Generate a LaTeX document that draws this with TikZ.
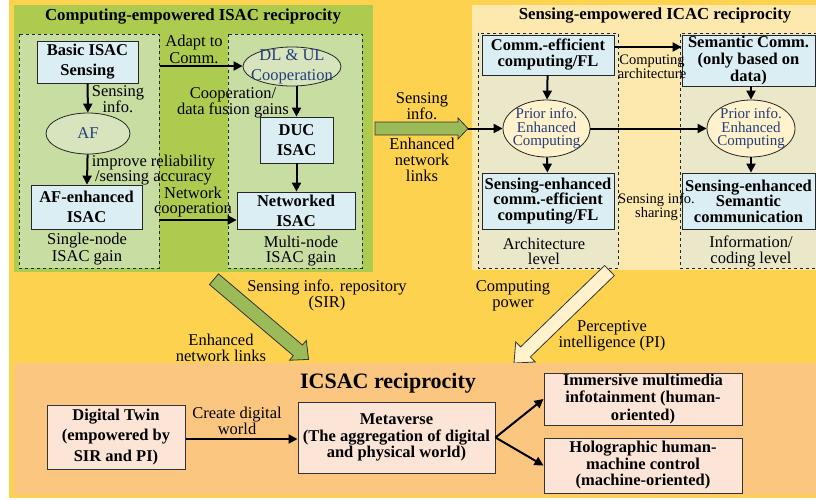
\documentclass[tikz,border=0pt]{standalone}
\usepackage{fontspec}
\setmainfont{Liberation Serif}
\usetikzlibrary{shapes.geometric,arrows.meta}
\definecolor{bgyellow}{HTML}{FDD24F}
\definecolor{panelgreen}{HTML}{ADCB4F}
\definecolor{innergreen}{HTML}{C8DDA1}
\definecolor{ellgreen}{HTML}{D8E4BD}
\definecolor{panelcream}{HTML}{FDE9AE}
\definecolor{innercream}{HTML}{EBE7C9}
\definecolor{ellcream}{HTML}{FFF2CC}
\definecolor{boxblue}{HTML}{DBEEF4}
\definecolor{panelorange}{HTML}{FAC680}
\definecolor{boxpeach}{HTML}{FCE4D6}
\definecolor{arrgreen}{HTML}{9BBB59}
\definecolor{txtblue}{HTML}{233E7A}
\tikzset{
  dashbox/.style={draw=black!85, dashed, line width=0.7pt},
  bluebox/.style={draw=black!85, line width=0.8pt, fill=boxblue, align=center, inner sep=0pt,
    font=\fontsize{16.5}{20}\selectfont\bfseries},
  peachbox/.style={draw=black!80, line width=1pt, fill=boxpeach, align=center, inner sep=0pt,
    font=\fontsize{16.5}{17}\selectfont\bfseries},
  ellg/.style={ellipse, draw=black!85, line width=0.8pt, fill=ellgreen, inner sep=0pt},
  ellc/.style={ellipse, draw=black!85, line width=0.8pt, fill=ellcream, inner sep=0pt},
  elltext/.style={align=center, inner sep=0pt, text=txtblue, font=\fontsize{16.5}{20}\selectfont},
  elltextsm/.style={align=center, inner sep=0pt, text=txtblue, font=\fontsize{15}{13.5}\selectfont},
  lbl/.style={align=center, inner sep=0pt, font=\fontsize{16.5}{15.5}\selectfont},
  lblsm/.style={align=center, inner sep=0pt, font=\fontsize{14.5}{13}\selectfont},
  ttl/.style={inner sep=0pt, font=\fontsize{16.8}{20}\selectfont\bfseries},
  conn/.style={-{Triangle[length=9pt,width=9pt]}, line width=2pt, black},
  fatarrow/.style={draw=black!80, line width=0.8pt, line join=miter},
}
% #1 tail x, #2 tail y, #3 angle, #4 length, #5 shaft half width, #6 head half width, #7 head length, #8 fill
\newcommand{\myfatarrow}[8]{%
  \begin{scope}[shift={(#1,#2)}, rotate=#3]
    \draw[fatarrow, fill=#8] (0,-#5) -- ({#4-#7},-#5) -- ({#4-#7},-#6) -- (#4,0)
      -- ({#4-#7},#6) -- ({#4-#7},#5) -- (0,#5) -- cycle;
  \end{scope}}
\begin{document}
\begin{tikzpicture}[x=1pt,y=-1pt]
\useasboundingbox (0,0) rectangle (816,499);
\fill[white] (0,0) rectangle (816,499);
\fill[bgyellow] (9,0) rectangle (816,498);

% ---------- left panel ----------
\fill[panelgreen] (14,5) rectangle (373,272);
\draw[dashbox, fill=innergreen] (19,34) rectangle (159,268);
\draw[dashbox, fill=innergreen] (228,34) rectangle (362,268);
\node[ttl] (t1) at (193,17) {Computing-empowered ISAC reciprocity};

\node[bluebox, minimum width=101pt, minimum height=42pt] (basic) at (87.5,62) {Basic ISAC\\Sensing};
\node[ellg, minimum width=84pt, minimum height=41pt] (af) at (88,133.5) {};
\node[elltext] (aft) at (af) {AF};
\node[bluebox, minimum width=111pt, minimum height=44pt] (afisac) at (86.5,207) {AF-enhanced\\ISAC};
\node[lbl, font=\fontsize{16.5}{17}\selectfont] (single) at (87,249) {Single-node\\ISAC gain};

\node[ellg, minimum width=98pt, minimum height=39pt] (dlul) at (292,66.5) {};
\node[elltext] (dlult) at (dlul) {DL \& UL\\Cooperation};
\node[bluebox, minimum width=73pt, minimum height=46pt] (duc) at (296.5,140) {DUC\\ISAC};
\node[bluebox, minimum width=118pt, minimum height=37pt] (net) at (296,210.5) {Networked\\ISAC};
\node[lbl] (multi) at (301,251) {Multi-node\\ISAC gain};

\node[lbl] (sensinfo1) at (118,99) {Sensing\\info.};
\node[lbl] (improve) at (153.5,170) {improve reliability\\/sensing accuracy};
\node[lbl, font=\fontsize{16.5}{17}\selectfont] (adapt) at (194,49) {Adapt to\\Comm.};
\node[lbl] (coopgain) at (233,103) {Cooperation/\\data fusion gains};
\node[lbl] (netcoop) at (193,202) {Network\\cooperation};

\coordinate (adaptstart) at (160,66);
\coordinate (netstart) at (160,220);
\draw[conn] (basic) -- (af);
\draw[conn] (af) -- (afisac);
\draw[conn] (adaptstart) -- (dlul.west |- adaptstart);
\draw[conn] (duc.north |- dlul.south) -- (duc.north);
\draw[conn] (duc) -- (duc.south |- net.north);
\draw[conn] (netstart) -- (netstart -| net.west);

% ---------- right panel ----------
\fill[panelcream] (472,5) rectangle (816,270);
\draw[dashbox, fill=innercream] (478,33) rectangle (618,268);
\fill[innercream] (680,33) rectangle (816,268);
\draw[dashbox] (817,33) -- (680,33) -- (680,268) -- (817,268);
\node[ttl] (t2) at (655,16) {Sensing-empowered ICAC reciprocity};

\node[bluebox, minimum width=132pt, minimum height=40pt, font=\fontsize{16.5}{16}\selectfont\bfseries] (comm) at (548,55) {Comm.-efficient\\computing/FL};
\node[ellc, minimum width=87pt, minimum height=57pt] (pri1) at (546.5,128.5) {};
\node[elltextsm] (pri1t) at (pri1) {Prior info.\\Enhanced\\Computing};
\node[bluebox, minimum width=132pt, minimum height=56pt, font=\fontsize{16.5}{15.5}\selectfont\bfseries] (secomm) at (548,201) {Sensing-enhanced\\comm.-efficient\\computing/FL};
\node[bluebox, minimum width=133pt, minimum height=51pt, font=\fontsize{16.5}{17}\selectfont\bfseries] (sem) at (748.5,60.5) {Semantic Comm.\\(only based on\\data)};
\node[ellc, minimum width=88pt, minimum height=57pt] (pri2) at (751,128.5) {};
\node[elltextsm] (pri2t) at (pri2) {Prior info.\\Enhanced\\Computing};
\node[bluebox, minimum width=133pt, minimum height=56pt, font=\fontsize{16.5}{15.5}\selectfont\bfseries] (sesem) at (748.5,201) {Sensing-enhanced\\Semantic\\communication};

\node[lblsm] (comparch) at (652,67) {Computing\\architecture};
\node[lblsm] (sharing) at (656.5,207) {Sensing info.\\sharing};
\node[lbl] (archlevel) at (544,251.5) {Architecture\\level};
\node[lbl] (infolevel) at (751,251.5) {Information/\\coding level};

\draw[conn] (comm) -- (pri1);
\draw[conn] (pri1) -- (secomm);
\draw[conn] (sem.south -| pri2.north) -- (pri2.north);
\draw[conn] (pri2) -- (sesem.north -| pri2.south);
\draw[conn] ([yshift=8pt]comm.east) -- ([yshift=8pt]comm.east -| sem.west);
\draw[conn] (pri1.east) -- (pri2.west);

% ---------- middle link ----------
\node[lbl, font=\fontsize{16.5}{16}\selectfont] (sensinfo2) at (422,106) {Sensing\\info.};
\node[lbl, font=\fontsize{16.5}{16}\selectfont] (enlinks1) at (422,160) {Enhanced\\network\\links};
\myfatarrow{375}{128.5}{0}{93}{6.5}{10.5}{10}{arrgreen}
\coordinate (fattip) at (468,128.5);
\draw[conn] (fattip) -- (pri1.west);

% ---------- diagonal arrows ----------
\myfatarrow{214}{279.2}{-40.3}{124}{7}{13}{14}{arrgreen}
\myfatarrow{609.5}{270.5}{224.1}{133}{7}{14}{16}{ellcream}
\node[lbl, font=\fontsize{16.5}{16}\selectfont] (sir) at (327,295.5) {Sensing info. repository\\(SIR)};
\node[lbl, font=\fontsize{16.5}{16}\selectfont] (enlinks2) at (221,347.5) {Enhanced\\network links};
\node[lbl, font=\fontsize{16.5}{16}\selectfont] (comppow) at (513,295.5) {Computing\\power};
\node[lbl, font=\fontsize{16.5}{16}\selectfont] (pi) at (612,335.5) {Perceptive\\intelligence (PI)};

% ---------- bottom panel ----------
\fill[panelorange] (14,363) rectangle (816,495);
\node[inner sep=0pt, font=\fontsize{22}{24}\selectfont\bfseries] (t3) at (388,383) {ICSAC reciprocity};
\node[peachbox, minimum width=138pt, minimum height=64pt, font=\fontsize{16.5}{20.5}\selectfont\bfseries] (dt) at (116,437) {Digital Twin\\(empowered by\\SIR and PI)};
\node[peachbox, minimum width=197pt, minimum height=71pt, font=\fontsize{16.5}{16.5}\selectfont\bfseries] (meta) at (396.5,437.5) {Metaverse\\(The aggregation of digital\\and physical world)};
\node[peachbox, minimum width=198pt, minimum height=52pt, font=\fontsize{16.5}{17.5}\selectfont\bfseries] (imm) at (643,399) {Immersive multimedia\\infotainment (human-\\oriented)};
\node[peachbox, minimum width=198pt, minimum height=55pt, font=\fontsize{16.5}{16.5}\selectfont\bfseries] (holo) at (643,465.5) {Holographic human-\\machine control\\(machine-oriented)};
\node[lbl, font=\fontsize{16.5}{14}\selectfont] (create) at (237,420.5) {Create digital\\world};

\draw[conn] (dt.east |- 0,439) -- (meta.west |- 0,439);
\draw[conn] (meta.east) -- (imm.west);
\draw[conn] (meta.east) -- (holo.west);
\end{tikzpicture}
\end{document}
